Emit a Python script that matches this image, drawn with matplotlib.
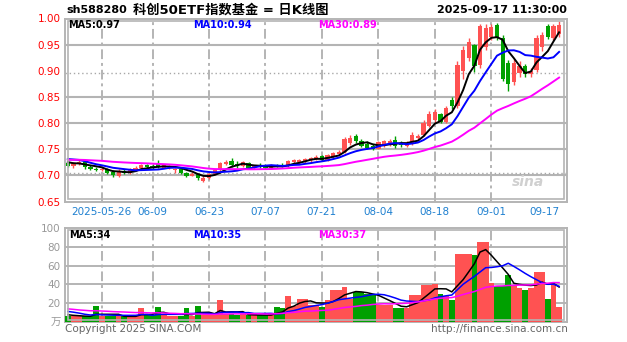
import matplotlib
matplotlib.use("Agg")
import matplotlib.pyplot as plt
import numpy as np
from matplotlib.patches import Rectangle

plt.rcParams["font.family"] = ["DejaVu Sans", "Noto Sans CJK SC"]

# ---- data ----
symbol = "sh588280"
chart_title = "科创50ETF指数基金 = 日K线图"
timestamp = "2025-09-17 11:30:00"

date_labels = ["2025-05-26", "06-09", "06-23", "07-07", "07-21", "08-04", "08-18", "09-01", "09-17"]
date_index = [6, 15, 25, 35, 45, 55, 65, 75, 87]

price_ticks = [0.65, 0.70, 0.75, 0.80, 0.85, 0.90, 0.95, 1.00]
vol_ticks = [20, 40, 60, 80, 100]

opens = [0.724, 0.718, 0.722, 0.725, 0.716, 0.713, 0.710, 0.712, 0.706, 0.699,
         0.709, 0.705, 0.710, 0.714, 0.720, 0.717, 0.722, 0.715, 0.716, 0.710,
         0.712, 0.705, 0.699, 0.703, 0.690, 0.694, 0.702, 0.710, 0.722, 0.728,
         0.722, 0.717, 0.723, 0.715, 0.720, 0.718, 0.714, 0.720, 0.720, 0.717,
         0.725, 0.726, 0.728, 0.729, 0.731, 0.737, 0.729, 0.735, 0.741, 0.744,
         0.762, 0.776, 0.766, 0.760, 0.756, 0.751, 0.757, 0.760, 0.768, 0.762,
         0.757, 0.760, 0.772, 0.777, 0.795, 0.805, 0.818, 0.802, 0.845, 0.832,
         0.900, 0.925, 0.950, 0.912, 0.945, 0.965, 0.988, 0.962, 0.915, 0.878,
         0.895, 0.910, 0.893, 0.902, 0.945, 0.985, 0.962, 0.970]
highs = [0.727, 0.726, 0.729, 0.726, 0.720, 0.716, 0.716, 0.714, 0.710, 0.713,
         0.712, 0.714, 0.718, 0.722, 0.722, 0.721, 0.729, 0.721, 0.719, 0.715,
         0.713, 0.707, 0.706, 0.704, 0.698, 0.704, 0.712, 0.726, 0.729, 0.733,
         0.728, 0.728, 0.726, 0.720, 0.724, 0.721, 0.722, 0.722, 0.724, 0.730,
         0.731, 0.731, 0.733, 0.736, 0.739, 0.739, 0.741, 0.744, 0.748, 0.773,
         0.777, 0.779, 0.770, 0.766, 0.760, 0.766, 0.768, 0.769, 0.776, 0.766,
         0.765, 0.782, 0.780, 0.805, 0.824, 0.826, 0.820, 0.832, 0.850, 0.918,
         0.948, 0.962, 0.952, 0.990, 0.990, 0.990, 0.992, 0.968, 0.920, 0.922,
         0.918, 0.913, 0.905, 0.968, 0.975, 0.990, 0.990, 0.995]
lows = [0.716, 0.714, 0.719, 0.713, 0.710, 0.709, 0.708, 0.703, 0.697, 0.697,
        0.703, 0.703, 0.709, 0.712, 0.714, 0.712, 0.715, 0.714, 0.712, 0.705,
        0.702, 0.697, 0.698, 0.692, 0.687, 0.693, 0.700, 0.709, 0.719, 0.716,
        0.715, 0.716, 0.712, 0.713, 0.715, 0.713, 0.713, 0.716, 0.716, 0.716,
        0.722, 0.722, 0.724, 0.726, 0.729, 0.727, 0.727, 0.733, 0.738, 0.742,
        0.758, 0.762, 0.754, 0.750, 0.748, 0.750, 0.754, 0.757, 0.753, 0.755,
        0.754, 0.759, 0.768, 0.775, 0.792, 0.800, 0.800, 0.800, 0.826, 0.828,
        0.885, 0.918, 0.898, 0.905, 0.940, 0.958, 0.958, 0.880, 0.862, 0.872,
        0.888, 0.888, 0.889, 0.898, 0.938, 0.960, 0.958, 0.965]
closes = [0.718, 0.723, 0.726, 0.716, 0.712, 0.710, 0.713, 0.705, 0.700, 0.709,
          0.705, 0.711, 0.715, 0.720, 0.716, 0.714, 0.717, 0.719, 0.718, 0.713,
          0.704, 0.699, 0.703, 0.694, 0.695, 0.702, 0.710, 0.724, 0.726, 0.720,
          0.717, 0.725, 0.714, 0.719, 0.717, 0.714, 0.719, 0.717, 0.718, 0.727,
          0.729, 0.729, 0.731, 0.733, 0.736, 0.729, 0.738, 0.742, 0.745, 0.770,
          0.772, 0.765, 0.757, 0.752, 0.751, 0.763, 0.765, 0.766, 0.757, 0.758,
          0.762, 0.778, 0.776, 0.800, 0.818, 0.822, 0.803, 0.828, 0.832, 0.912,
          0.940, 0.955, 0.910, 0.985, 0.982, 0.983, 0.962, 0.885, 0.875, 0.915,
          0.910, 0.893, 0.900, 0.962, 0.968, 0.965, 0.985, 0.988]
volume = [6.4, 6, 6, 6, 6, 17, 6, 6, 6, 6,
          6, 6, 6, 14.6, 7, 7, 16, 7, 6, 6,
          6, 15, 6, 17, 7, 7, 7, 23, 9, 8,
          7, 8, 7, 8, 7, 7, 8, 16, 15, 28,
          17, 24, 25, 18, 18, 16, 23, 34, 34, 37,
          25, 32, 32, 30, 30, 18, 18, 18, 15, 15,
          15, 29, 29, 39, 39, 40, 30, 28, 23, 72,
          72, 72, 71, 85, 85, 42, 38, 38, 50, 38,
          36, 34, 36, 53, 53, 25, 39, 16]

# closes / volumes before the visible window, only used to seed the moving averages
prior_close = [0.728, 0.722, 0.725, 0.730, 0.726, 0.729, 0.732, 0.730, 0.727, 0.724,
               0.726, 0.729, 0.731, 0.728, 0.730, 0.733, 0.731, 0.734, 0.735, 0.732,
               0.731, 0.735, 0.740, 0.742, 0.738, 0.733, 0.728, 0.725, 0.722]
prior_volume = [22, 25, 18, 20, 16, 15, 14, 17, 13, 12, 15, 14, 13, 16, 12,
                11, 14, 13, 12, 15, 14, 16, 18, 14, 12, 9, 8, 8, 7]

price_ma_text = ["MA5:0.97", "MA10:0.94", "MA30:0.89"]
vol_ma_text = ["MA5:34", "MA10:35", "MA30:37"]

RED = "#ff5252"
GREEN = "#00a000"
GRID = "#b4b4b4"
MA_COLORS = ["black", "#0000ff", "#ff00ff"]
W, H = 627, 342


def moving_average(values, prior, n):
    full = np.concatenate([prior, values])
    return np.convolve(full, np.ones(n) / n, mode="valid")[-len(values):]


def px_box(left, top, right, bottom):
    return [left / W, 1 - bottom / H, (right - left) / W, (bottom - top) / H]


def frame(ax, dx, dy):
    ax.add_patch(Rectangle((dx, dy), 1 - 2 * dx, 1 - 2 * dy, transform=ax.transAxes,
                           fill=False, ec=GRID, lw=1.2, zorder=6, clip_on=False))
    for s in ax.spines.values():
        s.set_color(GRID)
        s.set_linewidth(1.4)


o = np.array(opens)
h = np.array(highs)
lo = np.array(lows)
c = np.array(closes)
v = np.array(volume)
x = np.arange(len(c))
colors = np.where(c >= o, RED, GREEN)

fig = plt.figure(figsize=(W / 100, H / 100), dpi=100)
ax = fig.add_axes(px_box(65, 18.5, 567, 201.5))
axv = fig.add_axes(px_box(65, 228, 567, 322))

# price panel
ax.set_xlim(-0.5, len(c) + 0.4)
ax.set_ylim(0.65, 1.00)
for lv in [0.70, 0.75, 0.80, 0.85, 0.95]:
    ax.axhline(lv, color=GRID, lw=1.5, zorder=1)
for lv in [0.895, 0.705]:
    ax.axhline(lv, color="#a8a8a8", lw=1, ls=(0, (1, 2)), zorder=1)
for i in date_index[:-1]:
    ax.axvline(i, color=GRID, lw=1.4, ls=(0, (5, 2, 1.5, 2)), zorder=1)
    axv.axvline(i, color=GRID, lw=1.4, ls=(0, (5, 2, 1.5, 2)), zorder=1)

ax.vlines(x, lo, h, colors=colors, lw=1, zorder=3)
body_lo = np.minimum(o, c)
body_h = np.maximum(np.abs(c - o), 0.0015)
ax.bar(x, body_h, bottom=body_lo, width=0.75, color=colors, zorder=3)

for n, col in zip([5, 10, 30], MA_COLORS):
    ax.plot(x, moving_average(c, prior_close, n), color=col, lw=1.4, zorder=4)

ax.set_yticks(price_ticks)
ax.set_yticklabels([f"{t:.2f}" for t in price_ticks])
ax.tick_params(axis="y", length=0, pad=3, labelcolor="red", labelsize=7.5)
ax.set_xticks(date_index)
ax.set_xticklabels(date_labels)
ax.tick_params(axis="x", length=0, pad=4, labelcolor="#1f80d0", labelsize=7.5)
ax.get_xticklabels()[0].set_x(5.0)
ax.get_xticklabels()[-1].set_horizontalalignment("right")
frame(ax, 0.006, 0.012)

ax.text(0.55, 0.085, "sina", transform=ax.transAxes, fontsize=10, fontweight="bold",
        style="italic", color="#d8d8d8", zorder=2)
ax.text(0.955, 0.085, "sina", transform=ax.transAxes, fontsize=10, fontweight="bold",
        style="italic", color="#d0d0d0", ha="right", zorder=2).set_visible(True)
ax.texts[0].set_visible(False)

for txt, col, xp in zip(price_ma_text, MA_COLORS, [68, 193, 318]):
    fig.text(xp / W, 1 - 25 / H, txt, color=col, fontsize=7, va="center", fontweight="bold")

# volume panel
axv.set_xlim(ax.get_xlim())
axv.set_ylim(0, 100)
for lv in [20, 40, 60, 80]:
    axv.axhline(lv, color=GRID, lw=1.4, zorder=1)
axv.bar(x, v, width=1.0, color=colors, zorder=3)
for n, col in zip([5, 10, 30], MA_COLORS):
    axv.plot(x, moving_average(v, prior_volume, n), color=col, lw=1.1, zorder=4)
axv.set_xticks([])
axv.set_yticks([0] + vol_ticks)
axv.set_yticklabels(["万"] + [str(t) for t in vol_ticks])
axv.tick_params(axis="y", length=0, pad=3, labelcolor="#999999", labelsize=7.5)
frame(axv, 0.006, 0.02)

for txt, col, xp in zip(vol_ma_text, MA_COLORS, [69, 193, 318]):
    fig.text(xp / W, 1 - 235 / H, txt, color=col, fontsize=7, va="center", fontweight="bold")

# header / footer
fig.text(66 / W, 1 - 10 / H, symbol, fontsize=8, fontweight="bold", va="center")
fig.text(231 / W, 1 - 10 / H, chart_title, fontsize=9.5, fontweight="bold", va="center",
         ha="center", family=["DejaVu Sans", "Noto Sans CJK SC"])
fig.text(567 / W, 1 - 10 / H, timestamp, fontsize=8, fontweight="bold", va="center", ha="right")
fig.text(65 / W, 1 - 329 / H, "Copyright 2025 SINA.COM", fontsize=7.5, color="#666666", va="center")
fig.text(568 / W, 1 - 329 / H, "http://finance.sina.com.cn", fontsize=7.5, color="#666666",
         va="center", ha="right")

fig.savefig("out.png", dpi=100, facecolor="white")
